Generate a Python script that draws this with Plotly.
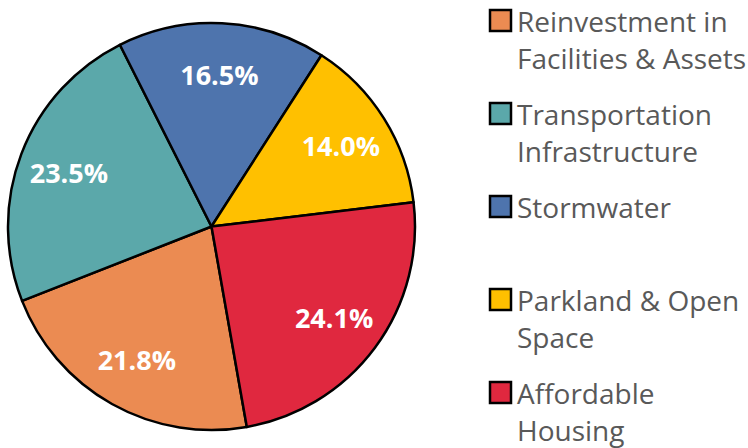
import plotly.graph_objects as go

# Data
categories = ["Reinvestment in Facilities & Assets", "Transportation Infrastructure",
              "Stormwater", "Parkland & Open Space", "Affordable Housing"]
legend_lines = [["Reinvestment in", "Facilities &amp; Assets"],
                ["Transportation", "Infrastructure"],
                ["Stormwater"],
                ["Parkland &amp; Open", "Space"],
                ["Affordable", "Housing"]]
values = [21.8, 23.5, 16.5, 14.0, 24.1]
colors = ["#EB8B52", "#5BA8AA", "#4E74AD", "#FFC000", "#E0283F"]

W, H = 748, 448
domain = dict(x=[8 / W, 415 / W], y=[17 / H, 426 / H])
common = dict(labels=categories, values=values, sort=False, direction="clockwise",
              rotation=170, domain=domain, showlegend=False)

# Full pie with slice colours and outlines
pie = go.Pie(
    **common,
    marker=dict(colors=colors, line=dict(color="#000000", width=2.5)),
    textinfo="none",
    hoverinfo="label+value",
)
# Transparent ring carrying the value labels (places them toward the outer part)
ring = go.Pie(
    **common,
    hole=0.5,
    marker=dict(colors=["rgba(0,0,0,0)"] * len(values), line=dict(width=0)),
    texttemplate="%{value:.1f}%",
    textposition="inside",
    insidetextorientation="horizontal",
    textfont=dict(family="Open Sans", size=27, color="white", weight="bold"),
    hoverinfo="skip",
)
fig = go.Figure([pie, ring])

# Legend drawn as swatches + text
annotations, shapes = [], []
first_y = 20.5      # px from top
step = 93.0
line_gap = 37.0
sw = 21
sw_x0 = 490
text_x = 515
for i, (lines, col) in enumerate(zip(legend_lines, colors)):
    cy = first_y + i * step
    shapes.append(dict(type="rect", xref="paper", yref="paper",
                       x0=sw_x0 / W, x1=(sw_x0 + sw) / W,
                       y0=1 - (cy - sw / 2) / H, y1=1 - (cy + sw / 2) / H,
                       fillcolor=col, line=dict(color="#000000", width=2.5)))
    for j, ln in enumerate(lines):
        annotations.append(dict(xref="paper", yref="paper",
                                x=text_x / W, y=1 - (cy + j * line_gap) / H,
                                xanchor="left", yanchor="middle",
                                text=ln, showarrow=False,
                                font=dict(family="Open Sans", size=28, color="#595959")))

fig.update_layout(
    width=W, height=H,
    margin=dict(l=0, r=0, t=0, b=0),
    paper_bgcolor="white",
    plot_bgcolor="white",
    showlegend=False,
    annotations=annotations,
    shapes=shapes,
    font=dict(family="Open Sans"),
)

fig.write_html("out.html", config={"displayModeBar": False},
               post_script="document.body.style.margin='0px';")
